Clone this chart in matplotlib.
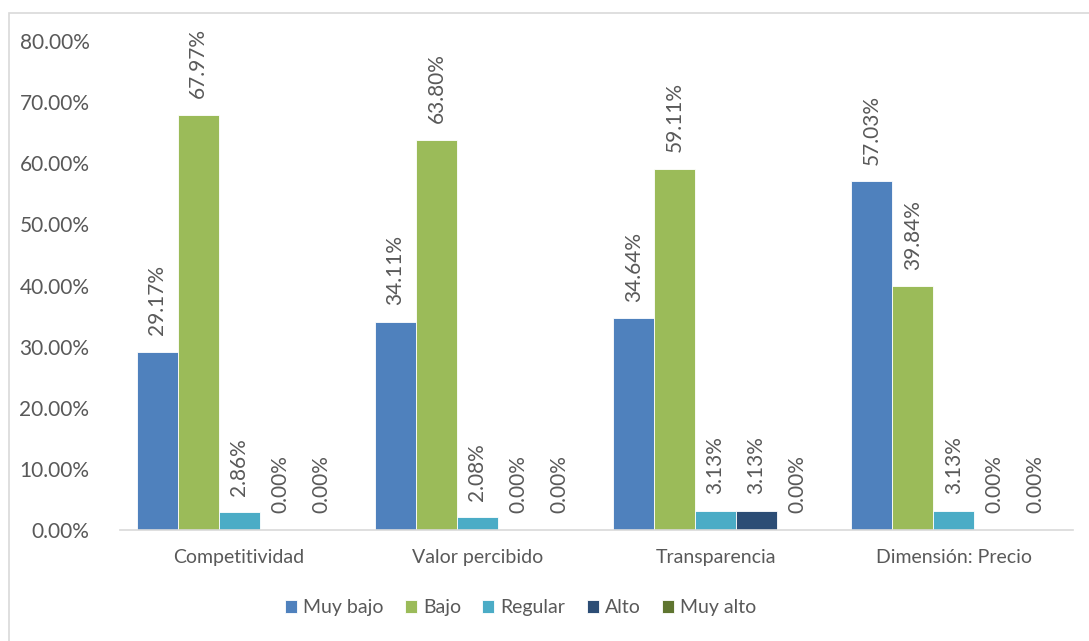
import matplotlib
matplotlib.use("Agg")
import matplotlib.pyplot as plt
import numpy as np
from matplotlib.patches import Rectangle
from matplotlib.ticker import FuncFormatter

plt.rcParams["font.family"] = ["Lato", "DejaVu Sans"]

CATEGORIES = ["Competitividad", "Valor percibido", "Transparencia", "Dimensión: Precio"]
SERIES = ["Muy bajo", "Bajo", "Regular", "Alto", "Muy alto"]
COLORS = ["#4F81BD", "#9BBB59", "#4BACC6", "#2C4D75", "#5F7530"]

muy_bajo = [29.17, 34.11, 34.64, 57.03]
bajo     = [67.97, 63.80, 59.11, 39.84]
regular  = [2.86, 2.08, 3.13, 3.13]
alto     = [0.00, 0.00, 3.13, 0.00]
muy_alto = [0.00, 0.00, 0.00, 0.00]
VALUES = [muy_bajo, bajo, regular, alto, muy_alto]

TEXT = "#595959"

fig = plt.figure(figsize=(10.89, 6.41), dpi=100)
ax = fig.add_axes([0.1102, 0.1732, 0.8751, 0.7628])

# light frame around the chart area (top and left edges visible)
fig.patches.append(Rectangle((9 / 1089, -0.1), 1.2, 1 - 12.5 / 641 + 0.1,
                             transform=fig.transFigure, fill=False,
                             edgecolor="#D9D9D9", linewidth=1.2))

x = np.arange(len(CATEGORIES))
width = 0.172
for i, (name, vals, col) in enumerate(zip(SERIES, VALUES, COLORS)):
    pos = x + (i - 2) * width
    ax.bar(pos, vals, width, color=col, edgecolor="white", linewidth=0.6, label=name)
    for px, v in zip(pos, vals):
        ax.annotate(f"{v:.2f}%", (px, v), xytext=(0, 12), textcoords="offset points",
                    rotation=90, ha="center", va="bottom", fontsize=15, color=TEXT)

ax.set_xlim(-0.5, 3.5)
ax.set_ylim(0, 80)
ax.set_yticks(np.arange(0, 81, 10))
ax.yaxis.set_major_formatter(FuncFormatter(lambda v, _: f"{v:.2f}%"))
ax.set_xticks(x)
ax.set_xticklabels(CATEGORIES)
ax.tick_params(axis="y", length=0, pad=22, labelsize=15, labelcolor=TEXT)
ax.tick_params(axis="x", length=0, pad=14, labelsize=14, labelcolor=TEXT)
for side in ["top", "right", "left"]:
    ax.spines[side].set_visible(False)
ax.spines["bottom"].set_color("#D9D9D9")
ax.spines["bottom"].set_linewidth(1.2)

leg = fig.legend(loc="center", bbox_to_anchor=(0.478, 0.0515), ncol=5, frameon=False,
                 fontsize=14, handlelength=0.62, handleheight=0.62, handletextpad=0.3,
                 columnspacing=1.1)
for t in leg.get_texts():
    t.set_color(TEXT)

fig.savefig("out.png", dpi=100)
